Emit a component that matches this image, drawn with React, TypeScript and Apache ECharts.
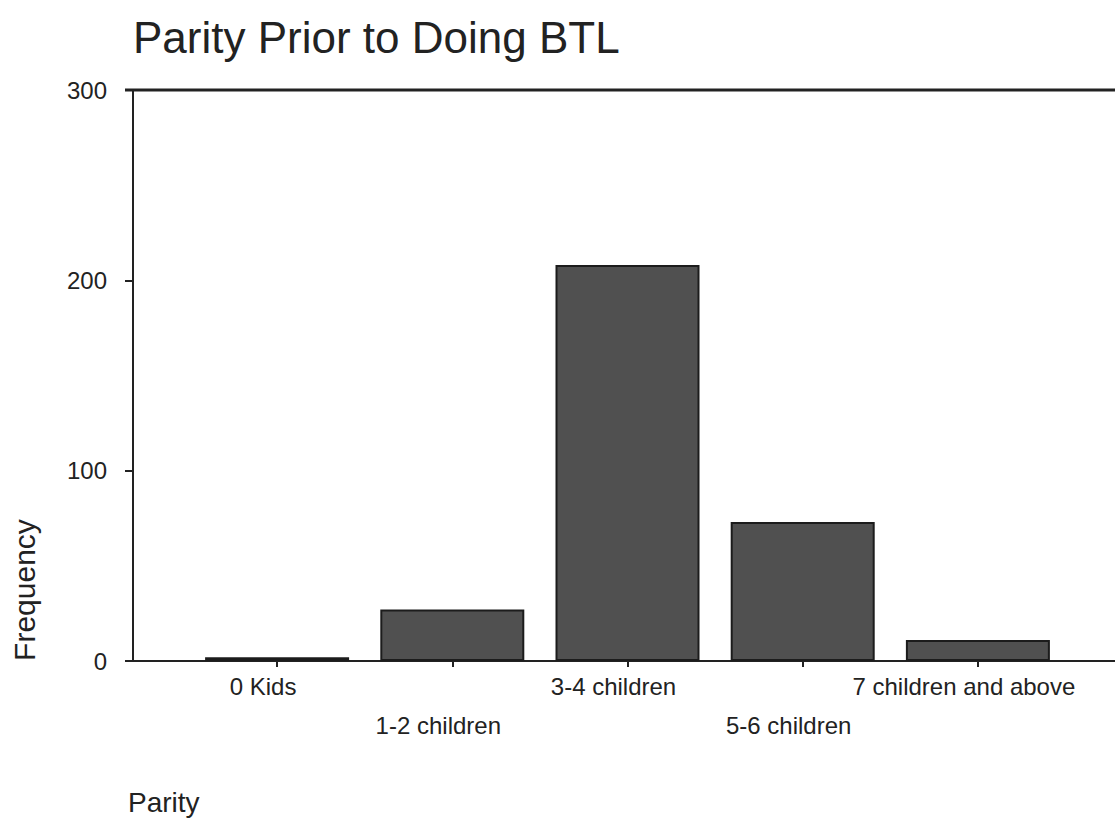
import React, { useEffect, useRef } from "react";
import * as echarts from "echarts";

const categories = ["0 Kids", "1-2 children", "3-4 children", "5-6 children", "7 children and above"];
const frequencies = [2, 27, 208, 73, 11];
const yTicks = { min: 0, max: 300, interval: 100 };
const titleText = "Parity Prior to Doing BTL";
const xName = "Parity";
const yName = "Frequency";

const FONT = "'Liberation Sans', Arial, Helvetica, sans-serif";
const INK = "#222";

export default function App() {
  const ref = useRef<HTMLDivElement>(null);
  useEffect(() => {
    document.body.style.margin = "0";
    const chart = echarts.init(ref.current!, undefined, { renderer: "svg" });
    const W = 1115;
    const top = 90;
    const bottom = 157;
    const plotBottomY = 818 - bottom;
    chart.setOption({
      animation: false,
      backgroundColor: "#fff",
      title: {
        text: titleText,
        left: 128,
        top: 10,
        textStyle: { fontFamily: FONT, fontSize: 44, fontWeight: "normal", color: INK },
      },
      grid: { left: 189.5, right: 49.5, top, bottom, containLabel: false },
      xAxis: {
        type: "category",
        data: categories,
        axisLine: { show: false },
        axisTick: { show: true, alignWithLabel: true, length: 6, lineStyle: { color: INK, width: 2 } },
        axisLabel: {
          interval: 0,
          margin: 6,
          fontFamily: FONT,
          fontSize: 24,
          color: INK,
          lineHeight: 39,
          formatter: (v: string, i: number) => (i % 2 ? `{e| }\n{a|${v}}` : `{a|${v}}`),
          rich: {
            a: { fontFamily: FONT, fontSize: 24, color: INK, padding: [0, 28, 0, 0], lineHeight: 39 },
            e: { fontFamily: FONT, fontSize: 24, color: INK, lineHeight: 39 },
          },
        },
        splitLine: { show: false },
      },
      yAxis: {
        type: "value",
        min: yTicks.min,
        max: yTicks.max,
        interval: yTicks.interval,
        offset: 56.5,
        axisLine: { show: true, lineStyle: { color: INK, width: 2 } },
        axisTick: { show: true, length: 8, lineStyle: { color: INK, width: 2 } },
        axisLabel: { margin: 26, fontFamily: FONT, fontSize: 24, color: INK },
        splitLine: { show: false },
      },
      series: [
        {
          type: "bar",
          data: frequencies,
          barWidth: 144,
          itemStyle: { color: "#505050", borderColor: "#1c1c1c", borderWidth: 2 },
        },
      ],
      graphic: [
        { type: "line", shape: { x1: 125, y1: top, x2: W, y2: top }, style: { stroke: INK, lineWidth: 3 } },
        { type: "line", shape: { x1: 125, y1: plotBottomY, x2: W, y2: plotBottomY }, style: { stroke: INK, lineWidth: 2 } },
        {
          type: "text",
          x: 24,
          y: 590,
          rotation: Math.PI / 2,
          style: { text: yName, font: `30px ${FONT}`, fill: INK, align: "center", verticalAlign: "middle" },
        },
        {
          type: "text",
          x: 128,
          y: 802,
          style: { text: xName, font: `28px ${FONT}`, fill: INK, align: "left", verticalAlign: "middle" },
        },
      ],
    });
    return () => chart.dispose();
  }, []);
  return <div ref={ref} style={{ width: 1115, height: 818 }} />;
}
